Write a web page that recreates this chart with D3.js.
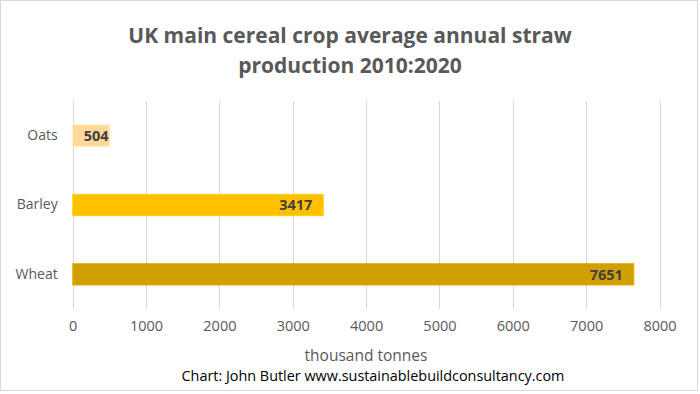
<!DOCTYPE html>
<html><head><meta charset="utf-8">
<script src="https://cdn.jsdelivr.net/npm/d3@7"></script>
<style>body{margin:0;background:#fff}svg{display:block}</style>
</head><body>
<svg id="c" width="700" height="394"></svg>
<script>
const categories = ["Oats", "Barley", "Wheat"];
const values = [504, 3417, 7651];
const colors = ["#ffd89a", "#ffc000", "#d29f00"];
const xTicks = [0, 1000, 2000, 3000, 4000, 5000, 6000, 7000, 8000];
const titleLines = ["UK main cereal crop average annual straw", "production 2010:2020"];
const axisTitle = "thousand tonnes";
const footer = "Chart: John Butler www.sustainablebuildconsultancy.com";

const svg = d3.select("#c");
const font = "'Open Sans', sans-serif";
const grey = "#595959";

svg.append("rect").attr("x", 0.5).attr("y", 0.5).attr("width", 697).attr("height", 390)
  .attr("fill", "#fff").attr("stroke", "#d9d9d9").attr("stroke-width", 1);

const m = {left: 72.7, right: 700 - 659.5, top: 101, bottom: 394 - 309};
const x = d3.scaleLinear().domain([0, 8000]).range([m.left, 700 - m.right]);
const y = d3.scaleBand().domain(categories).range([m.top, 394 - m.bottom]).paddingInner(0.69).paddingOuter(0.345);

// gridlines
svg.append("g").selectAll("line").data(xTicks).join("line")
  .attr("x1", d => Math.round(x(d)) + 0.5).attr("x2", d => Math.round(x(d)) + 0.5)
  .attr("y1", m.top).attr("y2", 394 - m.bottom)
  .attr("stroke", "#d9d9d9").attr("stroke-width", 1);

// x tick labels via axis
const xAxis = svg.append("g").attr("transform", `translate(0,${394 - m.bottom})`)
  .call(d3.axisBottom(x).tickValues(xTicks).tickSize(0).tickPadding(12).tickFormat(d3.format("d")));
xAxis.select(".domain").remove();
xAxis.selectAll("text").attr("font-family", font).attr("font-size", 14.5).attr("fill", grey);

// y axis labels
const yAxis = svg.append("g").attr("transform", `translate(${m.left},0)`)
  .call(d3.axisLeft(y).tickSize(0).tickPadding(15));
yAxis.select(".domain").remove();
yAxis.selectAll("text").attr("font-family", font).attr("font-size", 14).attr("fill", grey);

const data = categories.map((c, i) => ({c, v: values[i], col: colors[i]}));

svg.append("g").selectAll("rect").data(data).join("rect")
  .attr("x", x(0)).attr("y", d => y(d.c))
  .attr("width", d => x(d.v) - x(0)).attr("height", y.bandwidth())
  .attr("fill", d => d.col).attr("stroke", d => d3.color(d.col).brighter(0.3)).attr("stroke-width", 0.8);

const labels = svg.append("g").selectAll("text").data(data).join("text")
  .attr("y", d => y(d.c) + y.bandwidth() / 2)
  .attr("dy", "0.36em").attr("text-anchor", "end")
  .attr("font-family", font).attr("font-weight", "bold").attr("font-size", 14.5)
  .attr("fill", "#404040").text(d => d.v);
labels.attr("x", function(d) {
  const w = this.getComputedTextLength();
  return Math.max(x(d.v) - 11, x(0) + 11 + w);
});

// title
svg.append("g").selectAll("text").data(titleLines).join("text")
  .attr("x", 350).attr("y", (d, i) => 43 + i * 30).attr("text-anchor", "middle")
  .attr("font-family", font).attr("font-weight", "bold").attr("font-size", 21)
  .attr("fill", grey).text(d => d);

svg.append("text").attr("x", 366).attr("y", 361).attr("text-anchor", "middle")
  .attr("font-family", font).attr("font-size", 15.5).attr("fill", grey).text(axisTitle);

svg.append("text").attr("x", 373).attr("y", 381).attr("text-anchor", "middle")
  .attr("font-family", font).attr("font-size", 14.4).attr("fill", "#000").text(footer);
</script>
</body></html>
